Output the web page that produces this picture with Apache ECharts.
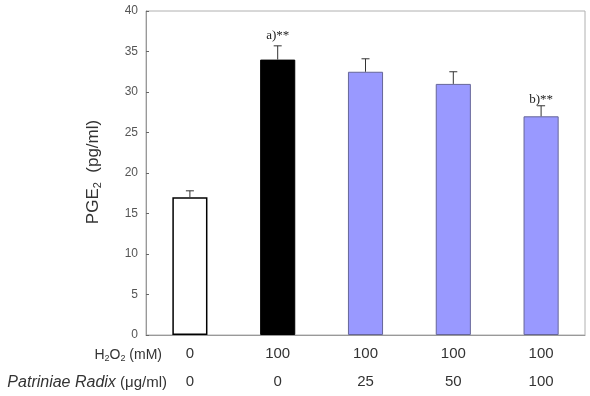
<!DOCTYPE html>
<html>
<head>
<meta charset="utf-8">
<script src="https://cdn.jsdelivr.net/npm/echarts@6/dist/echarts.min.js"></script>
<style>
  html, body { margin: 0; padding: 0; background: #fff; }
  #main { width: 590px; height: 396px; }
</style>
</head>
<body>
<div id="main"></div>
<script>
// values
var h2o2Doses = ['0', '100', '100', '100', '100'];
var radixDoses = ['0', '0', '25', '50', '100'];
var pgeValues = [17, 34, 32.5, 31, 27];
var pgeErrors = [0.8, 1.7, 1.6, 1.5, 1.3];
var signifMarks = ['', 'a)**', '', '', 'b)**'];
var yTicks = [0, 5, 10, 15, 20, 25, 30, 35, 40];

var barColors = ['#ffffff', '#000000', '#9999ff', '#9999ff', '#9999ff'];
var borderColors = ['#000000', '#000000', '#666699', '#666699', '#666699'];

var categories = h2o2Doses.map(function (d, i) { return i; });

var myChart = echarts.init(document.getElementById('main'));

var barData = pgeValues.map(function (v, i) {
    return {
        value: v,
        itemStyle: { color: barColors[i], borderColor: borderColors[i], borderWidth: i == 0 ? 1.5 : 1 }
    };
});

var errData = pgeValues.map(function (v, i) {
    return [i, v, pgeErrors[i]];
});

function renderErr(params, api) {
    var top = api.coord([api.value(0), api.value(1) + api.value(2)]);
    var base = api.coord([api.value(0), api.value(1)]);
    var mark = signifMarks[params.dataIndex];
    var children = [
        { type: 'line', shape: { x1: base[0], y1: base[1], x2: top[0], y2: top[1] }, style: { stroke: '#333', lineWidth: 1 } },
        { type: 'line', shape: { x1: top[0] - 4, y1: top[1], x2: top[0] + 4, y2: top[1] }, style: { stroke: '#333', lineWidth: 1 } }
    ];
    if (mark) {
        children.push({
            type: 'text',
            style: {
                x: top[0], y: top[1] - (params.dataIndex == 1 ? 10 : 6),
                text: mark, align: 'center', verticalAlign: 'middle',
                font: '13px "Liberation Serif"', fill: '#222'
            }
        });
    }
    return { type: 'group', children: children };
}

var option = {
    animation: false,
    grid: { left: 146, right: 5, top: 11, bottom: 59, show: true, borderColor: '#b0b0b0', borderWidth: 1 },
    xAxis: {
        type: 'category',
        data: categories,
        axisLine: { lineStyle: { color: '#999' } },
        axisTick: { show: false },
        axisLabel: {
            margin: 5,
            lineHeight: 28,
            fontSize: 15,
            color: '#333',
            fontFamily: 'Liberation Sans',
            formatter: function (v, i) { return h2o2Doses[i] + '\n' + radixDoses[i]; }
        }
    },
    yAxis: {
        type: 'value',
        min: yTicks[0],
        max: yTicks[yTicks.length - 1],
        interval: 5,
        axisLine: { show: true, lineStyle: { color: '#999' } },
        axisTick: { show: true, inside: true, length: 3, lineStyle: { color: '#666' } },
        splitLine: { show: false },
        axisLabel: { fontSize: 12, color: '#555', margin: 8, fontFamily: 'Liberation Sans' }
    },
    graphic: [
        {
            type: 'text', x: 93, y: 172, rotation: Math.PI / 2,
            style: {
                text: 'PGE{s|2}  (pg/ml)', align: 'center', verticalAlign: 'middle',
                font: '17px "Liberation Sans"', fill: '#333',
                rich: { s: { fontSize: 11, padding: [9, 0, 0, 0], fill: '#333' } }
            }
        },
        {
            type: 'text', x: 162, y: 355,
            style: {
                text: 'H{s|2}O{s|2} (mM)', align: 'right', verticalAlign: 'middle',
                font: '14px "Liberation Sans"', fill: '#333',
                rich: { s: { fontSize: 9, padding: [7, 0, 0, 0], fill: '#333' } }
            }
        },
        {
            type: 'text', x: 167, y: 383,
            style: {
                text: '{i|Patriniae Radix} (μg/ml)', align: 'right', verticalAlign: 'middle',
                font: '15px "Liberation Sans"', fill: '#333',
                rich: { i: { fontStyle: 'italic', fontSize: 16, fill: '#333' } }
            }
        }
    ],
    series: [
        {
            type: 'bar',
            data: barData,
            barWidth: '40%'
        },
        {
            type: 'custom',
            renderItem: renderErr,
            data: errData,
            z: 5
        }
    ]
};

myChart.setOption(option);
</script>
</body>
</html>
